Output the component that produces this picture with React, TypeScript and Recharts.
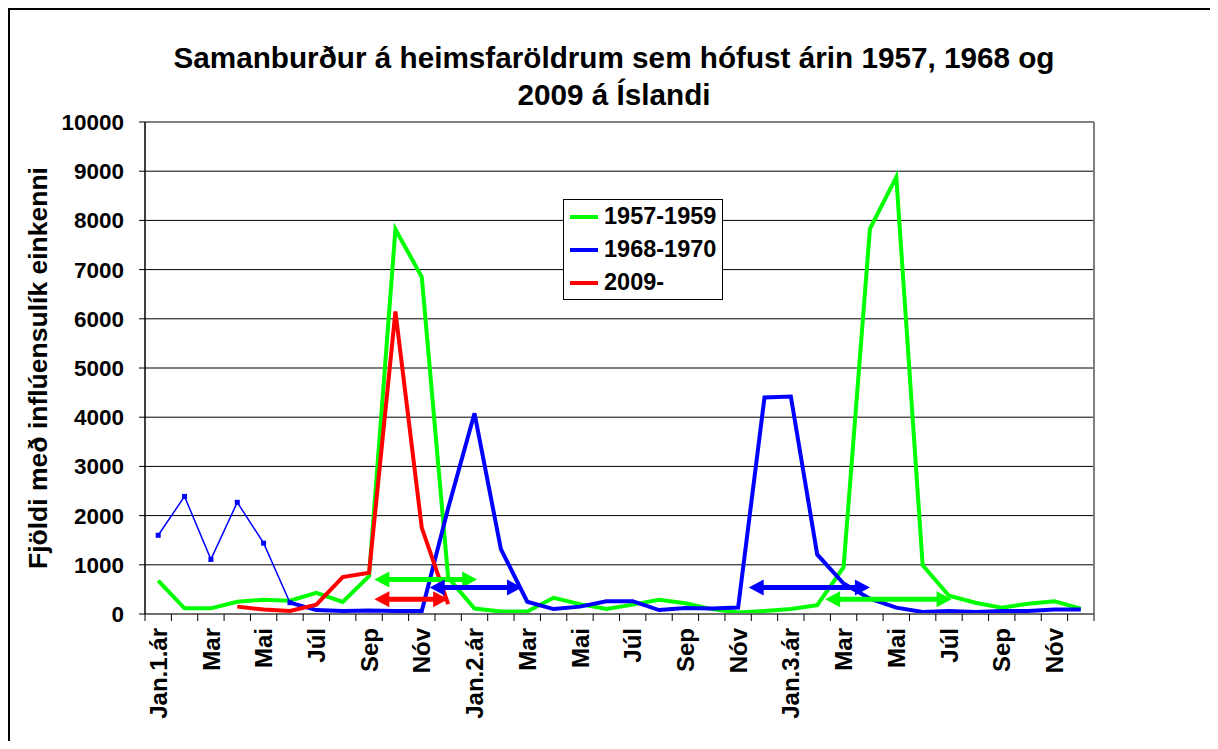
import React from "react";
import {
  LineChart,
  Line,
  XAxis,
  YAxis,
  CartesianGrid,
  Legend,
  ReferenceLine,
} from "recharts";

const titleLines = [
  "Samanburður á heimsfaröldrum sem hófust árin 1957, 1968 og",
  "2009 á Íslandi",
];
const yLabel = "Fjöldi með inflúensulík einkenni";

const monthLabels = [
  "Jan.1.ár", "Feb", "Mar", "Apr", "Mai", "Jún", "Júl", "Ágú", "Sep", "Okt", "Nóv", "Des",
  "Jan.2.ár", "Feb", "Mar", "Apr", "Mai", "Jún", "Júl", "Ágú", "Sep", "Okt", "Nóv", "Des",
  "Jan.3.ár", "Feb", "Mar", "Apr", "Mai", "Jún", "Júl", "Ágú", "Sep", "Okt", "Nóv", "Des",
];

const yTicks = [0, 1000, 2000, 3000, 4000, 5000, 6000, 7000, 8000, 9000, 10000];

const s1957 = [
  680, 115, 115, 250, 290, 270, 430, 245, 770, 7820, 6850, 740,
  110, 50, 50, 330, 200, 100, 190, 290, 220, 100, 30, 60,
  100, 180, 950, 7830, 8880, 990, 370, 230, 130, 210, 260, 110,
];
// first months of 1968 drawn with a thin line in the original
const s1968early = [
  1600, 2390, 1110, 2270, 1440, 230, null, null, null, null, null, null,
  null, null, null, null, null, null, null, null, null, null, null, null,
  null, null, null, null, null, null, null, null, null, null, null, null,
];
const s1968 = [
  null, null, null, null, null, 230, 80, 60, 70, 60, 60, 2150,
  4080, 1320, 250, 100, 150, 260, 260, 80, 120, 110, 130, 4400,
  4420, 1210, 620, 310, 130, 40, 60, 40, 60, 60, 90, 90,
];
const s2009 = [
  null, null, null, 150, 90, 60, 190, 750, 840, 6150, 1750, 200,
  null, null, null, null, null, null, null, null, null, null, null, null,
  null, null, null, null, null, null, null, null, null, null, null, null,
];

// epidemic duration arrows: [from month, to month, level]
const arrows1957 = [[8.2, 12.1, 700], [25.3, 30.1, 300]];
const arrows1968 = [[10.3, 13.8, 540], [22.4, 27.0, 540]];
const arrows2009 = [[8.2, 11.0, 300]];

const COLORS = { g: "#00FF00", b: "#0000FF", r: "#FF0000" };
const FONT = '"Liberation Sans", Arial, sans-serif';

const data = monthLabels.map((label, i) => ({
  idx: i,
  label,
  s1957: s1957[i],
  s1968early: s1968early[i],
  s1968: s1968[i],
  s2009: s2009[i],
}));

const boundaryTicks = [-0.5, ...monthLabels.map((_, i) => i + 0.5)];
const labelTicks = monthLabels.map((_, i) => i).filter((i) => i % 2 === 0);

const arrowShape = (color: string) => (props: any) => {
  const { x1, y1, x2 } = props;
  const head = 15;
  const half = 8;
  const y = y1;
  return (
    <g>
      <line x1={x1 + head - 2} y1={y} x2={x2 - head + 2} y2={y} stroke={color} strokeWidth={5} />
      <polygon points={`${x1},${y} ${x1 + head},${y - half} ${x1 + head},${y + half}`} fill={color} />
      <polygon points={`${x2},${y} ${x2 - head},${y - half} ${x2 - head},${y + half}`} fill={color} />
    </g>
  );
};

const SquareDot = (props: any) => {
  const { cx, cy } = props;
  if (cx == null || cy == null) return <g />;
  return <rect x={cx - 2.5} y={cy - 2.5} width={5} height={5} fill={COLORS.b} />;
};

const MonthTick = (props: any) => {
  const { x, y, payload } = props;
  return (
    <text
      x={x}
      y={y}
      dy="0.36em"
      transform={`rotate(-90, ${x}, ${y})`}
      textAnchor="end"
      fontSize={24}
      fontWeight={700}
      fill="#000"
      fontFamily={FONT}
    >
      {monthLabels[payload.value]}
    </text>
  );
};

const YTitle = (props: any) => {
  const { x, y, height } = props.viewBox;
  const cx = x + 27;
  const cy = y + height / 2;
  return (
    <text
      x={cx}
      y={cy}
      dy="0.36em"
      transform={`rotate(-90, ${cx}, ${cy})`}
      textAnchor="middle"
      fontSize={26.5}
      fontWeight={700}
      fill="#000"
      fontFamily={FONT}
    >
      {yLabel}
    </text>
  );
};

const LegendBox = ({ payload }: any) => (
  <div style={{ border: "1px solid #000", background: "#fff", width: 158, fontFamily: FONT }}>
    {(payload || [])
      .filter((p: any) => p.type !== "none")
      .map((p: any) => (
        <div key={p.value} style={{ display: "flex", alignItems: "center", height: 33 }}>
          <svg width={40} height={10} style={{ flex: "none" }}>
            <line x1={6} x2={34} y1={5} y2={5} stroke={p.color} strokeWidth={4} />
            <rect x={18} y={3} width={4} height={4} fill={p.color} />
          </svg>
          <span style={{ fontSize: 23.5, fontWeight: 700, color: "#000", lineHeight: "33px" }}>{p.value}</span>
        </div>
      ))}
  </div>
);

export default function App() {
  return (
    <div
      style={{
        position: "relative",
        width: 1210,
        height: 733,
        borderLeft: "2px solid #000",
        borderTop: "2px solid #000",
        boxSizing: "border-box",
        fontFamily: FONT,
        background: "#fff",
      }}
    >
      <div
        style={{
          position: "absolute",
          left: 0,
          right: 0,
          top: 29,
          textAlign: "center",
          fontSize: 29.7,
          fontWeight: 700,
          lineHeight: "37px",
          color: "#000",
          zIndex: 2,
        }}
      >
        {titleLines.map((t) => (
          <div key={t}>{t}</div>
        ))}
      </div>
      <LineChart width={1208} height={731} data={data} margin={{ top: 112, right: 124, left: 0, bottom: 19 }}>
        <CartesianGrid vertical={false} stroke="#000" strokeWidth={1} />
        <XAxis
          dataKey="idx"
          type="number"
          domain={[-0.5, 35.5]}
          ticks={boundaryTicks}
          interval={0}
          tick={() => <g />}
          tickSize={7}
          tickLine={{ stroke: "#000" }}
          axisLine={{ stroke: "#707070", strokeWidth: 2 }}
          height={8}
        />
        <XAxis
          xAxisId="lbl"
          dataKey="idx"
          type="number"
          domain={[-0.5, 35.5]}
          ticks={labelTicks}
          interval={0}
          tick={<MonthTick />}
          tickLine={false}
          axisLine={false}
          tickSize={0}
          tickMargin={6}
          height={100}
        />
        <YAxis
          domain={[0, 10000]}
          ticks={yTicks}
          interval={0}
          width={135}
          tickSize={6}
          tickMargin={15}
          tickLine={{ stroke: "#000" }}
          axisLine={{ stroke: "#000", strokeWidth: 1.5 }}
          tick={{ fill: "#000", fontSize: 22.5, fontWeight: 700, fontFamily: FONT }}
          label={YTitle}
        />
        <ReferenceLine y={10000} stroke="#808080" strokeWidth={2} />
        <ReferenceLine x={35.5} stroke="#808080" strokeWidth={2} />
        <Legend
          layout="vertical"
          align="center"
          verticalAlign="middle"
          content={<LegendBox />}
          wrapperStyle={{ left: 553, top: 189, width: 160 }}
        />
        <Line
          dataKey="s1957"
          name="1957-1959"
          stroke={COLORS.g}
          strokeWidth={4}
          dot={false}
          isAnimationActive={false}
        />
        <Line
          dataKey="s1968early"
          name="1968 early"
          legendType="none"
          stroke={COLORS.b}
          strokeWidth={1.5}
          dot={<SquareDot />}
          isAnimationActive={false}
        />
        <Line
          dataKey="s1968"
          name="1968-1970"
          stroke={COLORS.b}
          strokeWidth={4}
          dot={false}
          isAnimationActive={false}
        />
        <Line
          dataKey="s2009"
          name="2009-"
          stroke={COLORS.r}
          strokeWidth={4}
          dot={false}
          isAnimationActive={false}
        />
        {arrows1957.map(([a, b, v], i) => (
          <ReferenceLine
            key={`g${i}`}
            segment={[{ x: a, y: v }, { x: b, y: v }]}
            shape={arrowShape(COLORS.g)}
          />
        ))}
        {arrows1968.map(([a, b, v], i) => (
          <ReferenceLine
            key={`b${i}`}
            segment={[{ x: a, y: v }, { x: b, y: v }]}
            shape={arrowShape(COLORS.b)}
          />
        ))}
        {arrows2009.map(([a, b, v], i) => (
          <ReferenceLine
            key={`r${i}`}
            segment={[{ x: a, y: v }, { x: b, y: v }]}
            shape={arrowShape(COLORS.r)}
          />
        ))}
      </LineChart>
    </div>
  );
}
